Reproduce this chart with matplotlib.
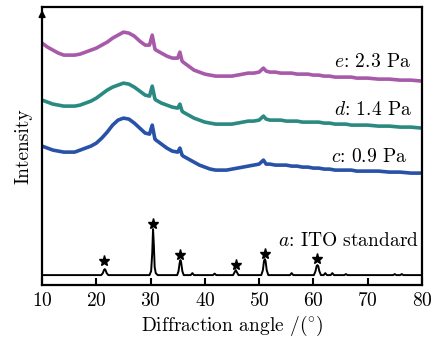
import numpy as np
import matplotlib
matplotlib.use('Agg')
import matplotlib.pyplot as plt

plt.rcParams['font.family'] = 'cmr10'
plt.rcParams['mathtext.fontset'] = 'cm'
plt.rcParams['axes.formatter.use_mathtext'] = True

# 2theta values (deg) for the three film patterns
angle = [10, 11, 12, 13, 14, 15, 16, 17, 18, 19, 20, 21, 22, 23, 24, 25, 26, 27, 28, 29,
         29.8, 30.3, 30.8, 31, 32, 33, 34, 35, 35.4, 35.8, 36, 37, 38, 39, 40, 41, 42, 43,
         44, 45, 46, 47, 48, 49, 50, 50.8, 51.3, 52, 53, 54, 55, 56, 57, 58, 59, 60, 61,
         62, 63, 64, 65, 66, 67, 68, 69, 70, 72, 74, 76, 78, 80]

# intensities (a.u., offset applied)
int_c = [139, 137, 135, 134, 133, 133, 133, 135, 137, 139, 142, 147, 153, 160, 165, 167, 166, 162, 157, 152,
         151, 160, 146, 145, 141, 137, 134, 133, 137, 130, 129, 126, 123, 120, 118, 116, 115, 115,
         115, 116, 117, 118, 119, 120, 121, 125, 121, 121, 120, 120, 120, 119, 119, 118, 118, 117, 117,
         116, 116, 115, 115, 115, 115, 114, 114, 114, 114, 113, 113, 112, 112]
int_d = [185, 183, 181, 180, 179, 179, 179, 180, 182, 184, 187, 191, 195, 198, 200, 202, 201, 198, 194, 190,
         189, 199, 186, 185, 182, 180, 178, 177, 181, 174, 173, 170, 167, 165, 163, 162, 161, 161,
         161, 161, 162, 163, 164, 164, 165, 169, 166, 165, 165, 165, 164, 164, 164, 163, 163, 163, 163,
         162, 162, 161, 161, 161, 160, 160, 160, 160, 159, 159, 158, 158, 157]
int_e = [242, 238, 235, 232, 230, 230, 230, 231, 233, 235, 237, 240, 243, 247, 250, 253, 252, 249, 244, 240,
         240, 250, 236, 235, 232, 229, 227, 227, 233, 224, 223, 219, 215, 213, 211, 210, 209, 209,
         209, 209, 210, 211, 212, 212, 213, 217, 214, 213, 213, 212, 212, 212, 211, 211, 211, 210, 210,
         209, 209, 208, 208, 208, 208, 207, 207, 207, 206, 206, 205, 205, 204]

# ITO standard pattern
ito_angle = [10, 20.9, 21.2, 21.4, 21.55, 21.7, 21.9, 22.2, 29.8, 30.1, 30.3, 30.45, 30.6, 30.75,
             30.95, 31.3, 34.9, 35.15, 35.35, 35.5, 35.65, 35.85, 36.1, 37.4, 37.7, 38.0, 41.5,
             41.8, 42.1, 45.2, 45.5, 45.7, 45.9, 46.2, 50.4, 50.7, 50.9, 51.05, 51.2, 51.4, 51.7,
             55.7, 56.0, 56.3, 60.1, 60.4, 60.6, 60.75, 60.9, 61.1, 61.4, 61.9, 62.2, 62.5, 63.2,
             63.5, 63.8, 65.7, 66.0, 66.3, 74.7, 75.0, 75.3, 76.0, 76.3, 76.6, 80]
ito_int = [10, 10, 12, 15, 16, 15, 12, 10, 10, 14, 32, 56, 40, 18,
           12, 10, 10, 14, 22, 25, 22, 14, 10, 10, 12, 10, 10,
           11.5, 10, 10, 13, 15, 13, 10, 10, 15, 24, 26, 24, 15, 10,
           10, 12, 10, 10, 14, 19, 20, 19, 14, 10, 10, 12, 10, 10,
           12, 10, 10, 11, 10, 10, 11, 10, 10, 11, 10, 10]

star_x = [21.5, 30.5, 35.5, 45.7, 51.0, 60.7]
star_y = [24, 61, 30, 20, 31, 26]

labels = ['$e$: 2.3 Pa', '$d$: 1.4 Pa', '$c$: 0.9 Pa', '$a$: ITO standard']
label_y = [223, 175, 128, 44]
label_x = [78.0, 78.3, 77.4, 79.4]

fig = plt.figure(figsize=(4.34, 3.39), dpi=100)
ax = fig.add_axes([0.097, 0.159, 0.875, 0.82])

ax.plot(angle, int_e, color='#a85aaa', lw=2.6)
ax.plot(angle, int_d, color='#2a8a82', lw=2.6)
ax.plot(angle, int_c, color='#2852a8', lw=2.6)
ax.plot(ito_angle, ito_int, color='black', lw=1.4)
ax.plot(star_x, star_y, '*', color='black', ms=8)

for t, xx, yy in zip(labels, label_x, label_y):
    ax.text(xx, yy, t, ha='right', va='center', fontsize=14)

ax.set_xlim(10, 80)
ax.set_ylim(0, 278)
ax.set_xticks(range(10, 81, 10))
ax.set_yticks([])
ax.tick_params(axis='x', direction='in', length=5, width=1.5, labelsize=14, pad=5)
for s in ax.spines.values():
    s.set_linewidth(1.6)
ax.set_xlabel('Diffraction angle /($^{\\circ}$)', fontsize=14, labelpad=3)
ax.set_ylabel('Intensity', fontsize=14, labelpad=7)

# arrow at top of intensity axis
ax.annotate('', xy=(0, 1.0), xytext=(0, 0.94), xycoords='axes fraction',
            arrowprops=dict(arrowstyle='-|>', color='black', lw=1.2, mutation_scale=10))

plt.savefig('out.png', dpi=100)
